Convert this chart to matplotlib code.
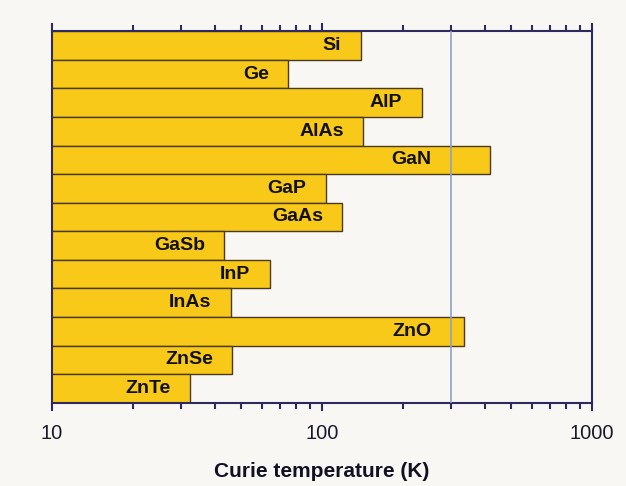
import numpy as np
import matplotlib.pyplot as plt
from matplotlib.ticker import LogLocator, NullFormatter, FixedFormatter, FixedLocator

plt.rcParams['font.family'] = ['Liberation Sans', 'DejaVu Sans']

# predicted Curie temperatures, top to bottom
materials = ['Si', 'Ge', 'AlP', 'AlAs', 'GaN', 'GaP', 'GaAs',
             'GaSb', 'InP', 'InAs', 'ZnO', 'ZnSe', 'ZnTe']
tc = [139, 75, 234, 142, 419, 103, 119, 43.5, 64, 46, 336, 46.5, 32.5]
room_temp = 300

fig = plt.figure(figsize=(6.26, 4.86), dpi=100)
fig.patch.set_facecolor('#f8f7f3')
ax = fig.add_axes([0.083, 0.171, 0.863, 0.765])
ax.set_facecolor('#f8f7f3')

y = np.arange(len(materials))
ax.barh(y, tc, height=1.0, left=0, color='#f9c919',
        edgecolor='#4a3a1e', linewidth=1.0, zorder=2)
ax.axvline(room_temp, color='#8ea2c6', linewidth=1.2, zorder=3)

ax.set_xscale('log')
ax.set_xlim(10, 1000)
ax.set_ylim(len(materials) - 0.5, -0.5)
ax.set_yticks([])

# labels sit inside the bar end; long bars keep the label left of 300 K
for yi, name, val in zip(y, materials, tc):
    anchor = min(val, room_temp)
    ax.annotate(name, (anchor, yi), xytext=(-14, 0), textcoords='offset points',
                ha='right', va='center', fontsize=14, fontweight='bold',
                color='#111111', zorder=4)

ax.xaxis.set_major_locator(FixedLocator([10, 100, 1000]))
ax.xaxis.set_major_formatter(FixedFormatter(['10', '100', '1000']))
ax.xaxis.set_minor_locator(LogLocator(base=10, subs=np.arange(2, 10)))
ax.xaxis.set_minor_formatter(NullFormatter())
ax.tick_params(axis='x', which='both', top=True, bottom=True, direction='out',
               color='#2e2a5e', width=1.5, labelsize=14.5, labelcolor='#1a1a2a', pad=9)
ax.tick_params(axis='x', which='major', length=6)
ax.tick_params(axis='x', which='minor', length=4)

for side in ax.spines.values():
    side.set_color('#2e2a5e')
    side.set_linewidth(1.5)

ax.set_xlabel('Curie temperature (K)', fontsize=15, fontweight='bold',
              color='#111122', labelpad=14)

fig.savefig('out.png', dpi=100, facecolor=fig.get_facecolor())
